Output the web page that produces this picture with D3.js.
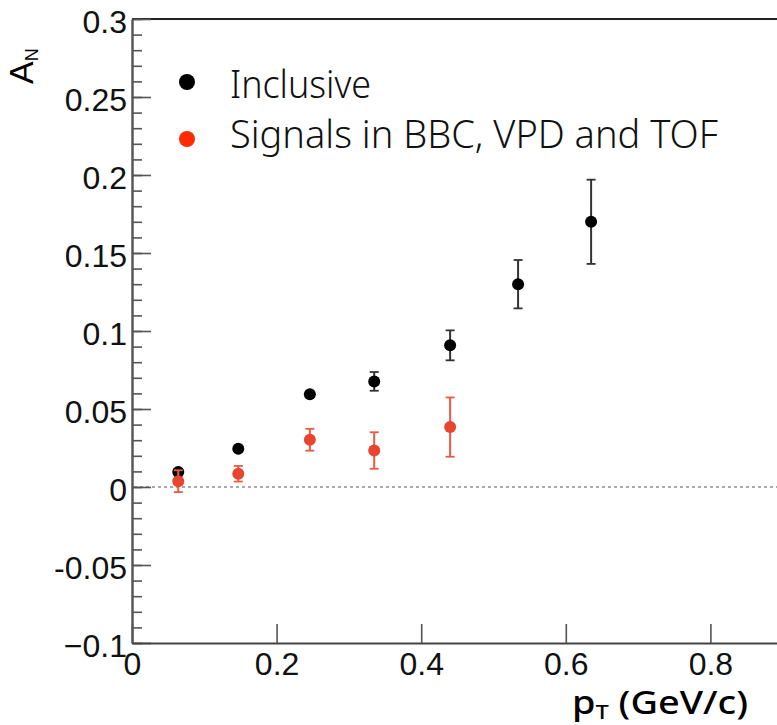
<!DOCTYPE html>
<html>
<head>
<meta charset="utf-8">
<script src="https://d3js.org/d3.v7.min.js"></script>
<style>
    body { margin: 0; background: #fff; }
    svg { display: block; }
    .axis line, .axis path { stroke: #555; stroke-width: 1.6; }
</style>
</head>
<body>
<svg id="chart" width="777" height="725"></svg>
<script>
// values
var pt = [0.064, 0.147, 0.246, 0.335, 0.44, 0.534, 0.635];
var inclusive = [0.0096, 0.0245, 0.0595, 0.0677, 0.0908, 0.130, 0.170];
var inclusiveErr = [0.002, 0.0012, 0.0012, 0.006, 0.0096, 0.0155, 0.027];
var signals = [0.0037, 0.0085, 0.0303, 0.0234, 0.0384];
var signalsErr = [0.007, 0.005, 0.007, 0.0117, 0.019];

var yTicks = [0.3, 0.25, 0.2, 0.15, 0.1, 0.05, 0, -0.05, -0.1];
var yTickLabels = ["0.3", "0.25", "0.2", "0.15", "0.1", "0.05", "0", "-0.05", "\u22120.1"];
var xTicks = [0, 0.2, 0.4, 0.6, 0.8];
var xTickLabels = ["0", "0.2", "0.4", "0.6", "0.8"];
var legendLabels = ["Inclusive", "Signals in BBC, VPD and TOF"];
var legendColors = ["#000", "#ff2a00"];

var svg = d3.select("#chart");
var plotLeft = 132, plotTop = 19, plotBottom = 643;

var x = d3.scaleLinear().domain([0, 1]).range([plotLeft, plotLeft + 723]);
var y = d3.scaleLinear().domain([-0.1, 0.3]).range([plotBottom, plotTop]);

// top frame line
svg.append("line")
    .attr("x1", plotLeft).attr("x2", 800)
    .attr("y1", plotTop).attr("y2", plotTop)
    .attr("stroke", "#222").attr("stroke-width", 2);

// y axis: minor ticks, then major ticks with labels
svg.append("g").attr("class", "axis")
    .attr("transform", "translate(" + plotLeft + ",0)")
    .call(d3.axisLeft(y).tickValues(d3.range(-10, 31).map(function(d) { return d / 100; }))
        .tickSizeInner(-10).tickSizeOuter(0).tickFormat(""));

var yAxis = svg.append("g").attr("class", "axis")
    .attr("transform", "translate(" + plotLeft + ",0)")
    .call(d3.axisLeft(y).tickValues(yTicks).tickSizeInner(-19).tickSizeOuter(0).tickPadding(5)
        .tickFormat(function(d, i) { return yTickLabels[i]; }));
yAxis.select(".domain").style("stroke-width", 2.2);

// x axis
var xAxis = svg.append("g").attr("class", "axis")
    .attr("transform", "translate(0," + plotBottom + ")")
    .call(d3.axisBottom(x).tickValues(xTicks).tickSizeInner(-19).tickSizeOuter(0).tickPadding(9)
        .tickFormat(function(d, i) { return xTickLabels[i]; }));
xAxis.select(".domain").style("stroke", "#444").style("stroke-width", 2);

svg.selectAll(".axis text")
    .style("font-family", "'Liberation Sans', Arial, sans-serif")
    .style("font-size", "32px").style("fill", "#111");
yAxis.selectAll("text").attr("dy", "0.42em");

// dashed zero line
svg.append("line")
    .attr("x1", plotLeft + 2).attr("x2", 800)
    .attr("y1", y(0)).attr("y2", y(0))
    .attr("stroke", "#555").attr("stroke-width", 1)
    .attr("stroke-dasharray", "3,3");

function drawSeries(vals, errs, color, barColor, r) {
    var data = vals.map(function(v, i) { return { x: pt[i], y: v, e: errs[i] }; });
    var g = svg.append("g");
    g.selectAll(".bar").data(data).enter().append("line")
        .attr("x1", function(d) { return x(d.x); }).attr("x2", function(d) { return x(d.x); })
        .attr("y1", function(d) { return y(d.y + d.e); }).attr("y2", function(d) { return y(d.y - d.e); })
        .attr("stroke", barColor).attr("stroke-width", 2);
    [1, -1].forEach(function(s) {
        g.selectAll(".cap" + s).data(data).enter().append("line")
            .attr("x1", function(d) { return x(d.x) - 4.5; }).attr("x2", function(d) { return x(d.x) + 4.5; })
            .attr("y1", function(d) { return y(d.y + s * d.e); }).attr("y2", function(d) { return y(d.y + s * d.e); })
            .attr("stroke", barColor).attr("stroke-width", 1.8);
    });
    g.selectAll("circle").data(data).enter().append("circle")
        .attr("cx", function(d) { return x(d.x); })
        .attr("cy", function(d) { return y(d.y); })
        .attr("r", r).attr("fill", color);
}
drawSeries(inclusive, inclusiveErr, "#000", "#333", 6);
drawSeries(signals, signalsErr, "#e8442e", "#ea5a44", 6);

// legend
var legendWidths = [141, 488];
var legend = svg.append("g");
legend.selectAll("circle").data(legendLabels).enter().append("circle")
    .attr("cx", 187).attr("cy", function(d, i) { return 82 + 57 * i; })
    .attr("r", 8).attr("fill", function(d, i) { return legendColors[i]; });
legend.selectAll("text").data(legendLabels).enter().append("text")
    .attr("x", 230).attr("y", function(d, i) { return 98 + 50 * i; })
    .attr("font-family", "Noto Sans, sans-serif").attr("font-weight", 300)
    .attr("font-size", 38).attr("fill", "#111")
    .attr("textLength", function(d, i) { return legendWidths[i]; })
    .attr("lengthAdjust", "spacingAndGlyphs")
    .text(function(d) { return d; });

// axis titles
var yt = svg.append("text")
    .attr("transform", "translate(33,84) rotate(-90)")
    .attr("font-family", "Liberation Sans, Arial, sans-serif")
    .attr("font-size", 34).attr("fill", "#000");
yt.append("tspan").text("A");
yt.append("tspan").attr("font-size", 18).attr("dy", 5).text("N");

var xt = svg.append("text")
    .attr("x", 572).attr("y", 714)
    .attr("font-family", "Noto Sans, sans-serif").attr("font-weight", 500)
    .attr("font-size", 32).attr("fill", "#000")
    .attr("textLength", 176).attr("lengthAdjust", "spacingAndGlyphs");
xt.append("tspan").text("p");
xt.append("tspan").attr("font-size", 20).attr("dy", 5).text("T");
xt.append("tspan").attr("dy", -5).text(" (GeV/c)");
</script>
</body>
</html>
